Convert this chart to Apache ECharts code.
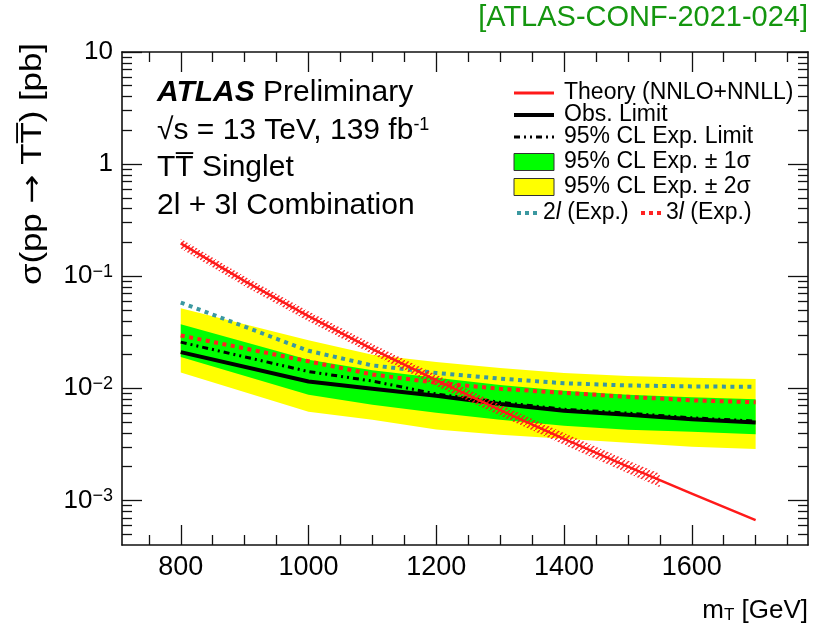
<!DOCTYPE html>
<html><head><meta charset="utf-8">
<script src="https://cdn.jsdelivr.net/npm/echarts@6/dist/echarts.min.js"></script>
<style>html,body{margin:0;padding:0;background:#fff}#c{width:813px;height:631px}</style>
</head><body><div id="c"></div>
<script>
// ---------------- data ----------------
const massPoints = [800, 1000, 1100, 1200, 1300, 1400, 1500, 1600, 1700];
const obsLimit = [0.0210, 0.0115, 0.0099, 0.00858, 0.00723, 0.00630, 0.00580, 0.00529, 0.00496];
const expLimit = [0.0258, 0.0141, 0.0116, 0.0089, 0.0075, 0.0065, 0.0060, 0.00545, 0.0051];
const exp1SigUp = [0.0373, 0.0180, 0.0145, 0.0124, 0.0107, 0.0095, 0.00875, 0.0083, 0.0080];
const exp1SigDn = [0.0190, 0.00875, 0.00713, 0.00605, 0.00524, 0.00463, 0.00427, 0.0041, 0.0039];
const exp2SigUp = [0.0519, 0.0268, 0.0199, 0.0172, 0.0152, 0.0137, 0.0129, 0.0124, 0.0121];
const exp2SigDn = [0.0138, 0.00617, 0.00524, 0.0043, 0.00385, 0.00355, 0.00327, 0.00301, 0.00287];
const exp2l = [0.0582, 0.0216, 0.0160, 0.0137, 0.0122, 0.0111, 0.0106, 0.0104, 0.0103];
const exp3l = [0.0296, 0.0174, 0.0133, 0.0112, 0.0099, 0.0091, 0.0084, 0.0078, 0.0075];

const theoryMass = [800, 900, 1000, 1100, 1200, 1300, 1400, 1500, 1600, 1700];
const theoryXsec = [0.196, 0.0903, 0.0440, 0.0224, 0.0118, 0.00639, 0.00354, 0.00200, 0.00115, 0.000667];
const theoryBandMass = [800, 900, 1000, 1100, 1200, 1300, 1400, 1500, 1550];
const theoryBandUp = [0.216, 0.0995, 0.0486, 0.0249, 0.0132, 0.00716, 0.00400, 0.00227, 0.00173];
const theoryBandDn = [0.177, 0.0815, 0.0396, 0.0201, 0.0105, 0.00568, 0.00313, 0.00175, 0.00131];

const xMajorTicks = [800, 1000, 1200, 1400, 1600];
const xMinorTicks = [750, 850, 900, 950, 1050, 1100, 1150, 1250, 1300, 1350, 1450, 1500, 1550, 1650, 1700, 1750];
const yMajorTicks = [0.001, 0.01, 0.1, 1, 10];

// ---------------- helpers ----------------
const FONT = 'Liberation Sans';
const X_MIN = 708, X_MAX = 1782, Y_MIN = 0.0004, Y_MAX = 10;
const yMinorTicks = [];
[0.0001, 0.001, 0.01, 0.1, 1].forEach(function (d) {
  for (let k = 2; k <= 9; k++) { const v = +(d * k).toPrecision(3); if (v > Y_MIN && v < Y_MAX) yMinorTicks.push(v); }
});

const hatch = document.createElement('canvas');
hatch.width = 5; hatch.height = 5;
(function () {
  const c = hatch.getContext('2d');
  c.strokeStyle = 'rgba(255,20,20,0.9)'; c.lineWidth = 1.4;
  c.beginPath(); c.moveTo(-1, 6); c.lineTo(6, -1); c.stroke();
})();

function zip(xs, ys) { return xs.map(function (x, i) { return [x, ys[i]]; }); }

function bandSeries(xs, up, dn, fill, z) {
  return {
    type: 'custom', z: z, silent: true, xAxisIndex: 0, yAxisIndex: 0,
    data: [[xs[0], up[0]]],
    renderItem: function (params, api) {
      const pts = [];
      for (let i = 0; i < xs.length; i++) pts.push(api.coord([xs[i], up[i]]));
      for (let i = xs.length - 1; i >= 0; i--) pts.push(api.coord([xs[i], dn[i]]));
      return { type: 'polygon', shape: { points: pts }, style: { fill: fill, stroke: null } };
    }
  };
}
function lineSeries(xs, ys, color, width, dash, z) {
  return {
    type: 'line', z: z, silent: true, xAxisIndex: 0, yAxisIndex: 0,
    data: zip(xs, ys), symbol: 'none', showSymbol: false,
    lineStyle: { color: color, width: width, type: dash, cap: 'butt', join: 'round' }
  };
}
function supLabel(v) {
  if (v === 10) return '10';
  if (v === 1) return '1';
  const e = Math.round(Math.log10(v));
  return '10{s|\u2212' + (-e) + '}';
}

function xAx(pos, major) {
  return {
    type: 'value', position: pos, min: X_MIN, max: X_MAX, gridIndex: 0,
    axisLine: { show: major, lineStyle: { color: '#111', width: 1.6 } },
    axisTick: { show: true, inside: true, length: major ? 20 : 10, customValues: major ? xMajorTicks : xMinorTicks, lineStyle: { color: '#111', width: 1.3 } },
    axisLabel: (pos === 'bottom' && major) ? {
      show: true, customValues: xMajorTicks, margin: 9, color: '#000', fontSize: 27, fontFamily: FONT,
      formatter: function (v) { return String(v); }
    } : { show: false },
    splitLine: { show: false }, minorTick: { show: false }
  };
}
function yAx(pos, major) {
  return {
    type: 'log', logBase: 10, position: pos, min: Y_MIN, max: Y_MAX, gridIndex: 0,
    axisLine: { show: major, lineStyle: { color: '#111', width: 1.6 } },
    axisTick: { show: true, inside: true, length: major ? 20 : 10, customValues: major ? yMajorTicks : yMinorTicks, lineStyle: { color: '#111', width: 1.3 } },
    axisLabel: (pos === 'left' && major) ? {
      show: true, customValues: yMajorTicks, margin: 9, color: '#000', fontSize: 26, fontFamily: FONT,
      formatter: function (v) { return supLabel(v); },
      rich: { s: { fontSize: 18, fontFamily: FONT, verticalAlign: 'top', color: '#000' } }
    } : { show: false },
    splitLine: { show: false }, minorTick: { show: false }
  };
}

// ---------------- legend & labels (graphic) ----------------
const LX0 = 514, LX1 = 554, LTX = 564, LFS = 23;
const rows = [93, 115, 137, 162, 187, 213];
function txt(x, y, text, size, extra) {
  const st = Object.assign({ text: text, fontSize: size, fontFamily: FONT, fill: '#000', align: 'left', verticalAlign: 'middle' }, extra || {});
  return { type: 'text', x: x, y: y, z: 100, style: st };
}
function seg(x0, x1, y, color, w, dash) {
  return { type: 'line', z: 100, shape: { x1: x0, y1: y, x2: x1, y2: y }, style: { stroke: color, lineWidth: w, lineDash: dash || null, lineCap: 'butt' } };
}
const AFS = 30, YFS = 29;
const graphics = [
  txt(808, 18, '[ATLAS-CONF-2021-024]', 29, { fill: '#14960f', align: 'right' }),
  txt(157, 93, '{a|ATLAS} Preliminary', AFS, { rich: { a: { fontSize: AFS, fontFamily: FONT, fontWeight: 'bold', fontStyle: 'italic' } } }),
  txt(157, 131, '\u221As = 13 TeV, 139 fb{s|-1}', AFS, { rich: { s: { fontSize: 18, fontFamily: FONT, verticalAlign: 'top' } } }),
  txt(157, 168, 'TT\u0305 Singlet', AFS),
  txt(157, 206, '2l + 3l Combination', AFS),
  // y title
  { type: 'text', x: 33, y: 43, rotation: Math.PI / 2, scaleX: 1.2, z: 100,
    style: { text: '\u03C3(pp {ar|\u2192} TT\u0305) [pb]', fontSize: YFS, fontFamily: FONT, fill: '#000', align: 'right', verticalAlign: 'middle',
      rich: { ar: { fontSize: YFS, fontFamily: 'DejaVu Sans', fill: '#000' } } } },
  // x title
  txt(808, 611, 'm{t|T} [GeV]', 26, { align: 'right', rich: { t: { fontSize: 17, fontFamily: FONT, verticalAlign: 'bottom', padding: [8, 0, 0, 0] } } }),
  // legend
  seg(LX0, LX1, rows[0], '#ff1a1a', 3),
  txt(LTX, rows[0], 'Theory (NNLO+NNLL)', LFS),
  seg(LX0, LX1, rows[1], '#000', 4),
  txt(LTX, rows[1], 'Obs. Limit', LFS),
  seg(LX0, LX1, rows[2], '#000', 3, [6, 4, 2, 4, 2, 4]),
  txt(LTX, rows[2], '95% CL Exp. Limit', LFS),
  { type: 'rect', z: 100, shape: { x: LX0, y: rows[3] - 8.5, width: LX1 - LX0, height: 17 }, style: { fill: '#00ff00', stroke: '#333', lineWidth: 1 } },
  txt(LTX, rows[3], '95% CL Exp. \u00B1 1\u03C3', LFS),
  { type: 'rect', z: 100, shape: { x: LX0, y: rows[4] - 8.5, width: LX1 - LX0, height: 17 }, style: { fill: '#ffff00', stroke: '#333', lineWidth: 1 } },
  txt(LTX, rows[4], '95% CL Exp. \u00B1 2\u03C3', LFS),
  seg(517, 541, rows[5], '#3b98a0', 4, [4, 4]),
  txt(543, rows[5], '2{i|l} (Exp.)', LFS, { rich: { i: { fontSize: LFS, fontFamily: FONT, fontStyle: 'italic' } } }),
  seg(641, 665, rows[5], '#ff2222', 4, [4, 4]),
  txt(666, rows[5], '3{i|l} (Exp.)', LFS, { rich: { i: { fontSize: LFS, fontFamily: FONT, fontStyle: 'italic' } } })
];

// ---------------- chart ----------------
const chart = echarts.init(document.getElementById('c'), null, { renderer: 'canvas' });
chart.setOption({
  animation: false,
  backgroundColor: '#ffffff',
  textStyle: { fontFamily: FONT },
  grid: { left: 122, right: 5, top: 52, bottom: 86, containLabel: false, outerBoundsMode: 'none' },
  xAxis: [xAx('bottom', true), xAx('bottom', false), xAx('top', true), xAx('top', false)],
  yAxis: [yAx('left', true), yAx('left', false), yAx('right', true), yAx('right', false)],
  series: [
    bandSeries(massPoints, exp2SigUp, exp2SigDn, '#ffff00', 1),
    bandSeries(massPoints, exp1SigUp, exp1SigDn, '#00ff00', 2),
    lineSeries(massPoints, exp2l, '#3b98a0', 4, [4, 4.5], 3),
    lineSeries(massPoints, exp3l, '#ff2222', 4, [4, 4.5], 3),
    lineSeries(massPoints, expLimit, '#000', 3, [6, 4, 2, 4, 2, 4], 4),
    lineSeries(massPoints, obsLimit, '#000', 4, 'solid', 5),
    bandSeries(theoryBandMass, theoryBandUp, theoryBandDn, { image: hatch, repeat: 'repeat' }, 6),
    lineSeries(theoryMass, theoryXsec, '#ff1a1a', 2.5, 'solid', 7)
  ],
  graphic: graphics
});
</script></body></html>
